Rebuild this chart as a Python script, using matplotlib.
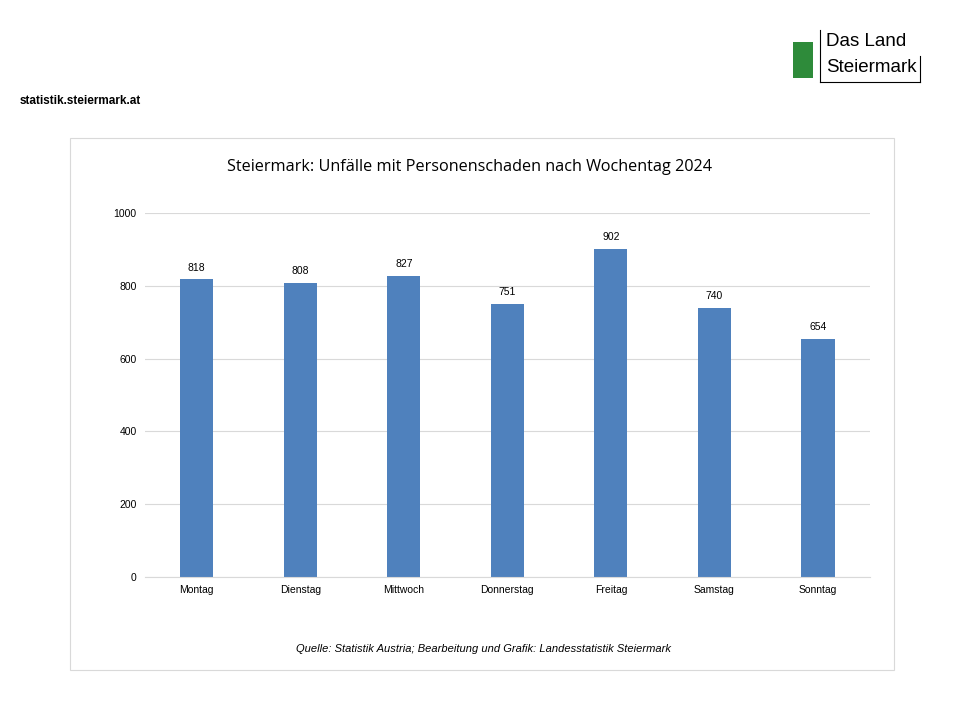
import matplotlib.pyplot as plt
from matplotlib.patches import Rectangle

days = ['Montag', 'Dienstag', 'Mittwoch', 'Donnerstag', 'Freitag', 'Samstag', 'Sonntag']
accidents = [818, 808, 827, 751, 902, 740, 654]
yticks = [0, 200, 400, 600, 800, 1000]

fig = plt.figure(figsize=(9.6, 7.2), dpi=100)

# chart frame
fig.patches.append(Rectangle((70 / 960, 1 - 670 / 720), 824 / 960, 532 / 720,
                             transform=fig.transFigure, fill=False,
                             edgecolor='#d9d9d9', linewidth=0.8))

ax = fig.add_axes([0.151, 0.1986, 0.755, 0.5055])
x = range(len(days))
bars = ax.bar(x, accidents, width=0.32, color='#4f81bd')
for i, v in enumerate(accidents):
    ax.text(i, v + 18, str(v), ha='center', va='bottom', fontsize=7.5, family='Liberation Sans')

ax.set_ylim(0, 1000)
ax.set_xlim(-0.5, len(days) - 0.5)
ax.set_yticks(yticks)
ax.set_xticks(list(x))
ax.set_xticklabels(days, fontsize=7.5, family='Liberation Sans')
ax.set_yticklabels([str(t) for t in yticks], fontsize=7.5, family='Liberation Sans')
ax.grid(axis='y', color='#d9d9d9', linewidth=0.8)
ax.set_axisbelow(True)
for s in ['top', 'right', 'left']:
    ax.spines[s].set_visible(False)
ax.spines['bottom'].set_color('#d9d9d9')
ax.tick_params(length=0, pad=6)

fig.text(470 / 960, 1 - 167 / 720, 'Steiermark: Unfälle mit Personenschaden nach Wochentag 2024',
         ha='center', va='center', fontsize=11.7, family='Open Sans')
fig.text(483 / 960, 1 - 649 / 720, 'Quelle: Statistik Austria; Bearbeitung und Grafik: Landesstatistik Steiermark',
         ha='center', va='center', fontsize=8, style='italic', family='Liberation Sans')
fig.text(20 / 960, 1 - 101 / 720, 'statistik.steiermark.at', ha='left', va='center',
         fontsize=8.5, weight='bold', family='Liberation Sans')

# logo text
fig.text(826 / 960, 1 - 42 / 720, 'Das Land', ha='left', va='center', fontsize=13.5, family='Liberation Sans')
fig.text(826 / 960, 1 - 68 / 720, 'Steiermark', ha='left', va='center', fontsize=13.5, family='Liberation Sans')
fig.add_artist(plt.Line2D([820 / 960, 820 / 960], [1 - 30 / 720, 1 - 82 / 720], color='black', lw=0.8))
fig.add_artist(plt.Line2D([820 / 960, 920 / 960], [1 - 82 / 720, 1 - 82 / 720], color='black', lw=0.8))
fig.add_artist(plt.Line2D([920 / 960, 920 / 960], [1 - 56 / 720, 1 - 82 / 720], color='black', lw=0.8))
fig.patches.append(Rectangle((793 / 960, 1 - 78 / 720), 20 / 960, 36 / 720,
                             transform=fig.transFigure, facecolor='#2e8b3a', edgecolor='none'))

fig.savefig('out.png', dpi=100)
